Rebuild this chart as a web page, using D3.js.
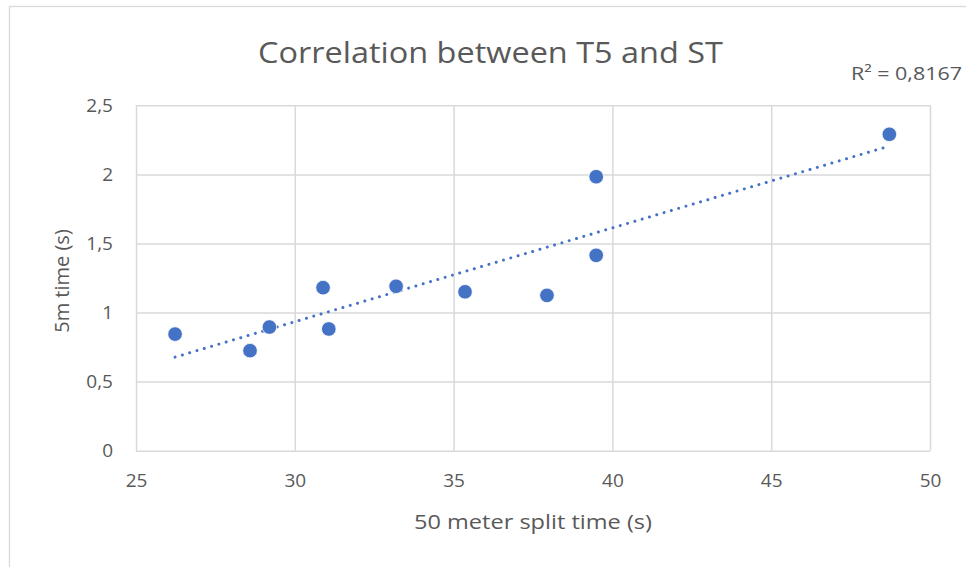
<!DOCTYPE html>
<html>
<head>
<meta charset="utf-8">
<script src="https://cdn.jsdelivr.net/npm/d3@7"></script>
<style>
  html, body { margin: 0; padding: 0; background: #fff; }
  svg { display: block; }
</style>
</head>
<body>
<svg id="chart" width="966" height="567"></svg>
<script>
// ---- Data ----
const splitTimes = [26.23, 28.59, 29.2, 30.89, 31.07, 33.19, 35.36, 37.94, 39.49, 39.49, 48.72];
const fiveMTimes = [0.844, 0.724, 0.895, 1.18, 0.881, 1.19, 1.15, 1.124, 1.983, 1.414, 2.29];
const xTicks = [25, 30, 35, 40, 45, 50];
const yTicks = [0, 0.5, 1, 1.5, 2, 2.5];
const titleText = "Correlation between T5 and ST";
const xLabel = "50 meter split time (s)";
const yLabel = "5m time (s)";
const r2Text = "R² = 0,8167";

// ---- Layout ----
const svg = d3.select("#chart");
const W = 966, H = 567;
const plot = { left: 136, right: 930, top: 105.3, bottom: 450.7 };
const color = "#4472C4";
const textColor = "#595959";
const gridColor = "#d9d9d9";
const font = "'Open Sans', 'Noto Sans', sans-serif";

// chart border
svg.append("rect")
  .attr("x", 9.5).attr("y", 6.5)
  .attr("width", W).attr("height", H)
  .attr("fill", "#fff").attr("stroke", gridColor).attr("stroke-width", 1.3);

const x = d3.scaleLinear().domain([25, 50]).range([plot.left, plot.right]);
const y = d3.scaleLinear().domain([0, 2.5]).range([plot.bottom, plot.top]);
const fmt = d => String(d).replace(".", ",");

// gridlines via axes
const gx = svg.append("g").attr("transform", `translate(0,${plot.bottom})`)
  .call(d3.axisBottom(x).tickValues(xTicks).tickSize(-(plot.bottom - plot.top)).tickFormat(""));
const gy = svg.append("g").attr("transform", `translate(${plot.left},0)`)
  .call(d3.axisLeft(y).tickValues(yTicks).tickSize(-(plot.right - plot.left)).tickFormat(""));
[gx, gy].forEach(g => {
  g.select(".domain").remove();
  g.selectAll(".tick line").attr("stroke", gridColor).attr("stroke-width", 1.5);
});

// tick labels
const lx = svg.append("g").attr("transform", `translate(0,${plot.bottom})`)
  .call(d3.axisBottom(x).tickValues(xTicks).tickSize(0).tickPadding(23).tickFormat(fmt));
const ly = svg.append("g").attr("transform", `translate(${plot.left},0)`)
  .call(d3.axisLeft(y).tickValues(yTicks).tickSize(0).tickPadding(23).tickFormat(fmt));
[lx, ly].forEach(g => {
  g.select(".domain").remove();
  g.selectAll("text").attr("fill", textColor).style("font-family", font).style("font-size", "19px");
});

// trendline (least squares)
const n = splitTimes.length;
const mx = d3.mean(splitTimes), my = d3.mean(fiveMTimes);
let sxy = 0, sxx = 0;
for (let i = 0; i < n; i++) { sxy += (splitTimes[i] - mx) * (fiveMTimes[i] - my); sxx += (splitTimes[i] - mx) ** 2; }
const slope = sxy / sxx, intercept = my - slope * mx;
const x0 = d3.min(splitTimes), x1 = d3.max(splitTimes);
svg.append("line")
  .attr("x1", x(x0)).attr("y1", y(intercept + slope * x0))
  .attr("x2", x(x1)).attr("y2", y(intercept + slope * x1))
  .attr("stroke", color).attr("stroke-width", 3)
  .attr("stroke-linecap", "round").attr("stroke-dasharray", "0.01 7.6");

// points
svg.append("g").selectAll("circle")
  .data(splitTimes.map((d, i) => [d, fiveMTimes[i]]))
  .join("circle")
  .attr("cx", d => x(d[0])).attr("cy", d => y(d[1]))
  .attr("r", 7.3).attr("fill", color).attr("stroke", "#fff").attr("stroke-width", 0.8);

// title
svg.append("text")
  .attr("x", 490.5).attr("y", 63).attr("text-anchor", "middle")
  .attr("fill", textColor).style("font-family", font).style("font-size", "30px")
  .attr("textLength", 465).attr("lengthAdjust", "spacingAndGlyphs")
  .text(titleText);

// R² label
svg.append("text")
  .attr("x", 851).attr("y", 80).attr("text-anchor", "start")
  .attr("fill", textColor).style("font-family", font).style("font-size", "18px")
  .attr("textLength", 111).attr("lengthAdjust", "spacingAndGlyphs")
  .text(r2Text);

// axis titles
svg.append("text")
  .attr("x", 533).attr("y", 529).attr("text-anchor", "middle")
  .attr("fill", textColor).style("font-family", font).style("font-size", "20px")
  .attr("textLength", 238).attr("lengthAdjust", "spacingAndGlyphs")
  .text(xLabel);
svg.append("text")
  .attr("transform", "translate(69,281) rotate(-90)").attr("text-anchor", "middle")
  .attr("fill", textColor).style("font-family", font).style("font-size", "20px")
  .text(yLabel);
</script>
</body>
</html>
